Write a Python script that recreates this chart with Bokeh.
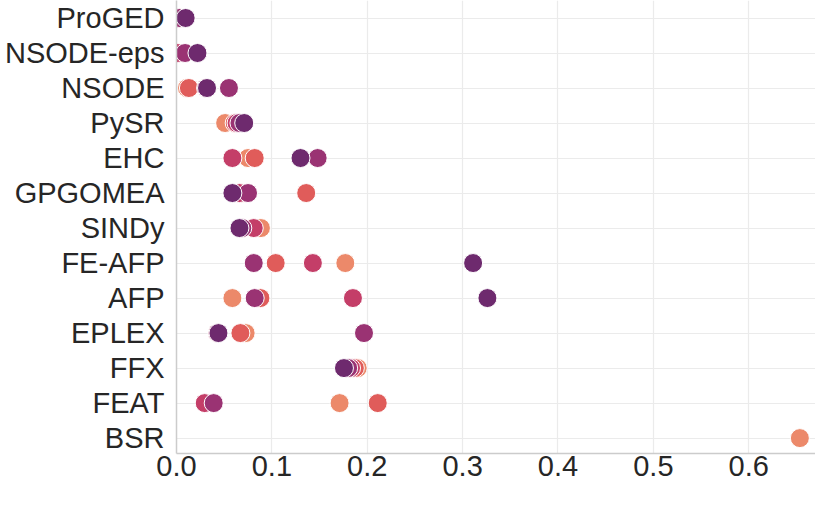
import numpy as np
from bokeh.plotting import figure
from bokeh.models import Range1d, FixedTicker, PrintfTickFormatter, ColumnDataSource
from bokeh.embed import file_html
from bokeh.resources import INLINE

methods = ["ProGED", "NSODE-eps", "NSODE", "PySR", "EHC", "GPGOMEA", "SINDy",
           "FE-AFP", "AFP", "EPLEX", "FFX", "FEAT", "BSR"]
nan = float("nan")

# five groups, drawn in this order (last on top)
level_5 = [0.001, 0.000, 0.011, 0.051, 0.075, 0.068, 0.0885, 0.177, 0.0586, 0.0725, 0.190, 0.171, 0.6536]
level_4 = [0.001, 0.000, 0.013, 0.061, 0.082, 0.136, 0.080, 0.104, 0.088, 0.067, 0.187, 0.211, nan]
level_3 = [0.002, 0.001, 0.031, 0.063, 0.0586, 0.066, 0.081, 0.143, 0.185, 0.043, 0.183, 0.0296, nan]
level_2 = [0.003, 0.009, 0.055, 0.066, 0.148, 0.075, 0.069, 0.081, 0.082, 0.1966, 0.180, 0.039, nan]
level_1 = [0.0096, 0.022, 0.032, 0.071, 0.130, 0.0586, 0.066, 0.311, 0.326, 0.044, 0.1756, nan, nan]

series = [level_5, level_4, level_3, level_2, level_1]
colors = ["#ec896a", "#e05c5a", "#c43e68", "#9a3373", "#6e2a6e"]

x_ticks = [0.0, 0.1, 0.2, 0.3, 0.4, 0.5, 0.6]

p = figure(width=815, height=491, output_backend="svg", toolbar_location=None,
           x_range=Range1d(0, 0.67), y_range=Range1d(12.44, -0.5),
           min_border_left=176, min_border_right=0, min_border_top=0, min_border_bottom=38)

ypos = list(range(len(methods)))
for vals, col in zip(series, colors):
    src = ColumnDataSource(dict(x=vals, y=ypos))
    p.scatter("x", "y", source=src, size=19, fill_color=col, line_color="white",
              line_width=1, fill_alpha=1.0)

p.outline_line_color = None
p.background_fill_color = "white"
p.border_fill_color = "white"

p.xaxis.ticker = FixedTicker(ticks=x_ticks)
p.xaxis.formatter = PrintfTickFormatter(format="%.1f")
p.yaxis.ticker = FixedTicker(ticks=ypos)
p.yaxis.major_label_overrides = {i: m for i, m in enumerate(methods)}

for ax in (p.xaxis[0], p.yaxis[0]):
    ax.axis_line_color = "#cccccc"
    ax.axis_line_width = 1.5
    ax.major_tick_line_color = None
    ax.minor_tick_line_color = None
    ax.major_tick_out = 0
    ax.major_tick_in = 0
    ax.major_label_text_font = "Liberation Sans"
    ax.major_label_text_font_size = "29px"
    ax.major_label_text_color = "#262626"
p.xaxis.major_label_standoff = 2
p.yaxis.major_label_standoff = 12

p.xgrid.grid_line_color = "#ebebeb"
p.ygrid.grid_line_color = "#ebebeb"
p.xgrid.grid_line_width = 1.2
p.ygrid.grid_line_width = 1.2
p.xgrid.ticker = FixedTicker(ticks=x_ticks)
p.ygrid.ticker = FixedTicker(ticks=ypos)

open("out.html", "w").write(file_html(p, INLINE))
